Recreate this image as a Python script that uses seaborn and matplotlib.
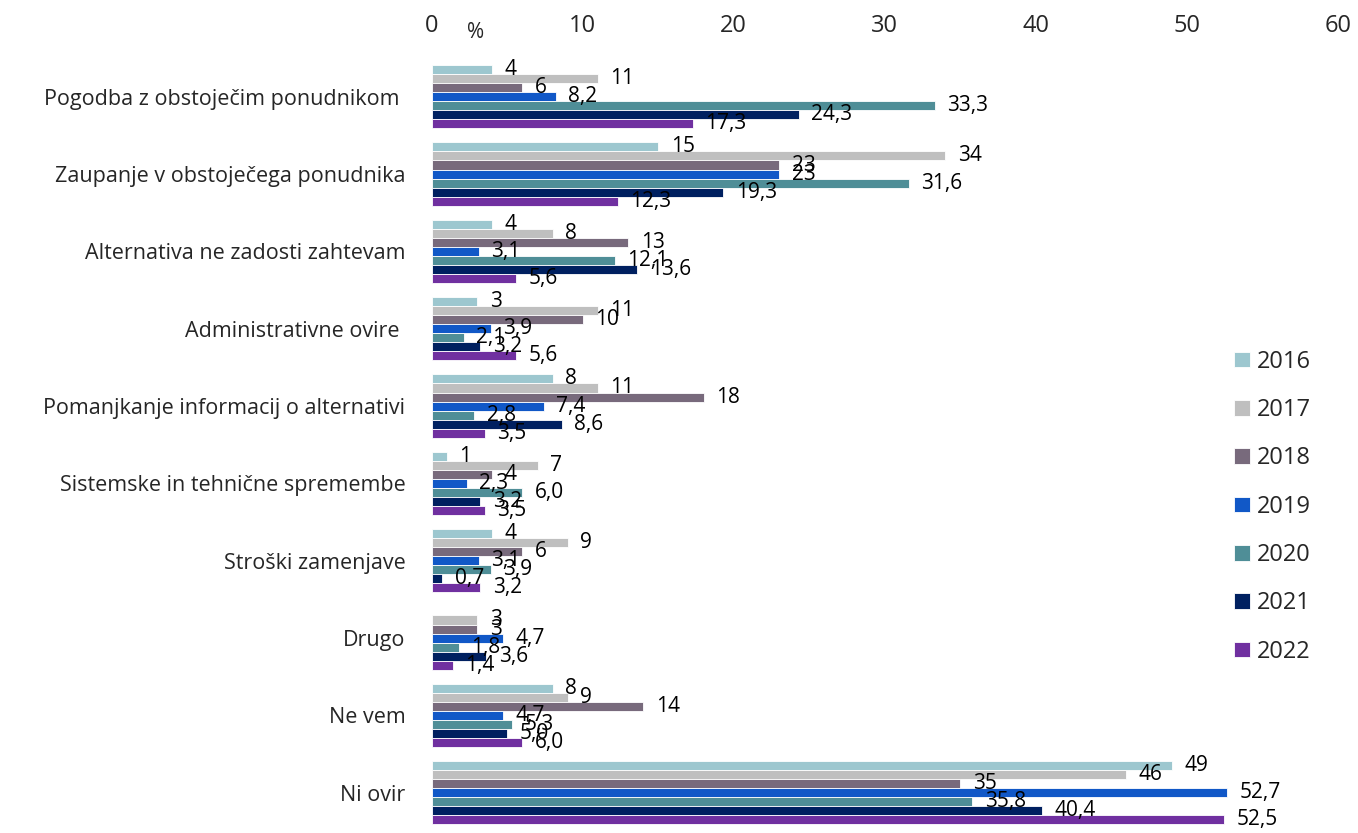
import pandas as pd
import numpy as np
import seaborn as sns
import matplotlib.pyplot as plt

categories = [
    "Pogodba z obstoječim ponudnikom ",
    "Zaupanje v obstoječega ponudnika",
    "Alternativa ne zadosti zahtevam",
    "Administrativne ovire ",
    "Pomanjkanje informacij o alternativi",
    "Sistemske in tehnične spremembe",
    "Stroški zamenjave",
    "Drugo",
    "Ne vem",
    "Ni ovir",
]
years = ["2016", "2017", "2018", "2019", "2020", "2021", "2022"]

v2016 = [4, 15, 4, 3, 8, 1, 4, None, 8, 49]
v2017 = [11, 34, 8, 11, 11, 7, 9, 3, 9, 46]
v2018 = [6, 23, 13, 10, 18, 4, 6, 3, 14, 35]
v2019 = [8.2, 23, 3.1, 3.9, 7.4, 2.3, 3.1, 4.7, 4.7, 52.7]
v2020 = [33.3, 31.6, 12.1, 2.1, 2.8, 6.0, 3.9, 1.8, 5.3, 35.8]
v2021 = [24.3, 19.3, 13.6, 3.2, 8.6, 3.2, 0.7, 3.6, 5.0, 40.4]
v2022 = [17.3, 12.3, 5.6, 5.6, 3.5, 3.5, 3.2, 1.4, 6.0, 52.5]
series = [v2016, v2017, v2018, v2019, v2020, v2021, v2022]

colors = ["#9DC7CF", "#BFBFBF", "#786A7C", "#1158C7", "#4F8E97", "#002060", "#7030A0"]

rows = []
for y, vals in zip(years, series):
    for c, v in zip(categories, vals):
        if v is not None:
            rows.append([c, y, v])
df = pd.DataFrame(rows, columns=["category", "year", "value"])


def fmt(v):
    # integers as typed, decimals with a comma
    if isinstance(v, int):
        return str(v)
    return f"{v:.1f}".replace(".", ",")


sns.set_style("white")
plt.rcParams['font.family'] = ['Open Sans', 'DejaVu Sans']

fig = plt.figure(figsize=(13.58, 8.33), dpi=100)
ax = fig.add_axes([0.318, 0.0, 0.667, 0.934])

sns.barplot(data=df, y="category", x="value", hue="year", order=categories,
            hue_order=years, palette=colors, saturation=1, orient="h", width=0.82,
            edgecolor="white", linewidth=0.6, ax=ax, legend=True)

# data labels
for cont, vals in zip(ax.containers, series):
    labels = [fmt(v) for v in vals if v is not None]
    ax.bar_label(cont, labels=labels, padding=9, fontsize=15, color="black")

ax.set_xlim(0, 60)
ax.set_ylim(9.52, -0.54)
ax.xaxis.tick_top()
ax.set_xticks(range(0, 61, 10))
ax.tick_params(axis="x", length=0, pad=12, labelsize=17)
ax.tick_params(axis="y", length=0, pad=19, labelsize=15.5)
ax.set_xlabel("")
ax.set_ylabel("")
for s in ax.spines.values():
    s.set_visible(False)

fig.text(0.35, 0.961, "%", fontsize=15, ha="center", va="center")

handles, labs = ax.get_legend_handles_labels()
ax.get_legend().remove()
fig.legend(handles, labs, loc="upper left", bbox_to_anchor=(0.909, 0.580),
           frameon=False, fontsize=17, handlelength=0.64, handleheight=0.64,
           handletextpad=0.3, labelspacing=1.03, borderpad=0, borderaxespad=0)

fig.savefig("out.png", dpi=100)
